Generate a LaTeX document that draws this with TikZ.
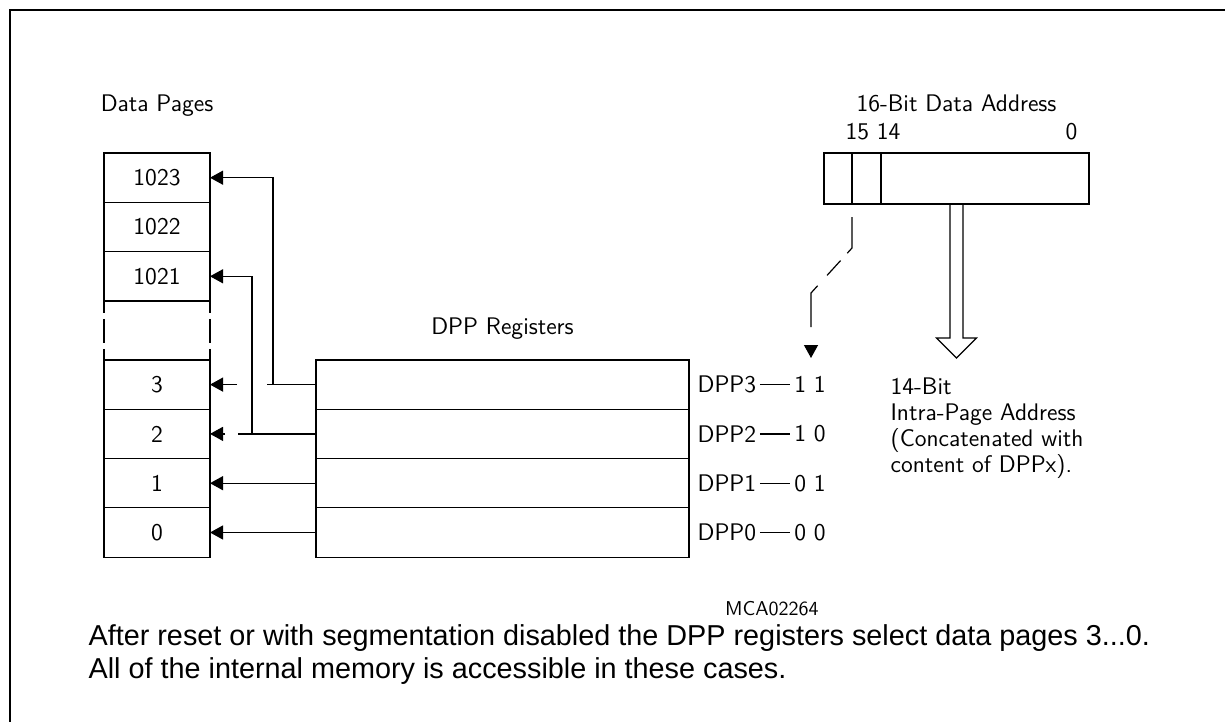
\documentclass[tikz,border=0pt]{standalone}
\usepackage{fontspec}
\usepackage{tikz}
\usetikzlibrary{arrows.meta, positioning}
\newfontfamily\notefont{Liberation Sans}

\begin{document}
\begin{tikzpicture} [x=0.5pt, y=-0.5pt,
            node distance = 0pt,
            line width = 0.6pt,
            lbl/.style = {font=\sffamily\fontsize{12}{13}\selectfont, inner sep=0pt},
            pagebox/.style = {draw, minimum width=53pt, minimum height=24.65pt,
                inner sep=0pt, outer sep=0pt, font=\sffamily\fontsize{12}{13}\selectfont},
            dppreg/.style = {pagebox, minimum width=186.5pt},
            wire/.style = {-{Triangle[length=6.5pt, width=7pt]}},
            gapline/.style = {dash pattern=on 6pt off 3pt on 12pt off 3pt on 5.5pt},
            bitline/.style = {wire, dash pattern=on 19pt off 5pt on 10pt off 7pt on 22pt off 40pt,
                dash phase=96.5pt}]

        \useasboundingbox (0,0) rectangle (1225,722);

        % Frame
        \draw [line width=1pt] (10,722) -- (10,10) -- (1225,10);

        % Data pages
        \node (p1023) [pagebox] at (157,177.7) {1023};
        \node (p1022) [pagebox, below = of p1023] {1022};
        \node (p1021) [pagebox, below = of p1022] {1021};
        \node (p3) [pagebox, below = 29.5pt of p1021] {3};
        \node (p2) [pagebox, below = of p3] {2};
        \node (p1) [pagebox, below = of p2] {1};
        \node (p0) [pagebox, below = of p1] {0};
        \node (dptitle) [lbl, above = 17.8pt of p1023] {Data Pages};

        \draw [gapline] (p1021.south west) -- (p3.north west);
        \draw [gapline] (p1021.south east) -- (p3.north east);

        % DPP registers
        \node (dpp3) [dppreg, right = 53pt of p3] {};
        \node (dpp2) [dppreg, below = of dpp3] {};
        \node (dpp1) [dppreg, below = of dpp2] {};
        \node (dpp0) [dppreg, below = of dpp1] {};
        \node (regtitle) [lbl, above = 10pt of dpp3] {DPP Registers};

        % Register names and bit values
        \node (dl3) [lbl, right = 4pt of dpp3] {DPP3};
        \node (dl2) [lbl, right = 4pt of dpp2] {DPP2};
        \node (dl1) [lbl, right = 4pt of dpp1] {DPP1};
        \node (dl0) [lbl, right = 4pt of dpp0] {DPP0};
        \node (bv3) [lbl, right = 18.5pt of dl3] {1 1};
        \node (bv2) [lbl, right = 18.5pt of dl2] {1 0};
        \node (bv1) [lbl, right = 18.5pt of dl1] {0 1};
        \node (bv0) [lbl, right = 18.5pt of dl0] {0 0};
        \foreach \i in {0,...,3}
            \draw [shorten <=1.5pt, shorten >=2pt] (dl\i) -- (bv\i);

        % Arrows to the data pages
        \draw [wire] (dpp3.west) -- ++(-43,0) |- (p1023.east);
        \draw [wire] (dpp2.west) -- ++(-64,0) |- (p1021.east);
        \draw [wire, dash pattern=on 24.5pt off 15pt on 20pt] (dpp3.west) -- (p3.east);
        \draw [wire, dash pattern=on 39pt off 6.5pt on 20pt] (dpp2.west) -- (p2.east);
        \draw [wire] (dpp1.west) -- (p1.east);
        \draw [wire] (dpp0.west) -- (p0.east);

        % 16-bit data address
        \node (addr) [pagebox, minimum width=132.5pt, minimum height=25.5pt] at (956.5,178.5) {};
        \node (addrttl) [lbl, above = 20pt of addr] {16-Bit Data Address};
        \node (bhi) [lbl, anchor=south west] at ([xshift=10.5pt, yshift=6pt]addr.north west) {15 14};
        \node (blo) [lbl, anchor=south east] at ([xshift=-5.5pt, yshift=6pt]addr.north east) {0};
        \coordinate (b14) at ([xshift=14pt]addr.south west);
        \coordinate (b13) at ([xshift=28.5pt]addr.south west);
        \draw (b14) -- (b14 |- addr.north);
        \draw (b13) -- (b13 |- addr.north);

        % Page bits
        \draw [bitline] (b14) -- ++(0,44) -- ++(-41,45) -- ++(0,65);

        % Intra-page address
        \draw [miter limit=20] ([xshift=-3.25pt]addr.south) -- ++(0,134) -- ++(-13.5,0)
            -- ++(20,20) -- ++(20,-20) -- ++(-13.5,0) -- ++(0,-134);
        \node (intra) [lbl, align=left, anchor=north west] at (890,377)
            {14-Bit\\Intra-Page Address\\(Concatenated with\\content of DPPx).};

        \node (mcaid) [lbl, font=\sffamily\fontsize{10}{12}\selectfont, anchor=east]
            at ([xshift=-3.5pt, yshift=-38pt]bv0.east) {MCA02264};

        % Note
        \node (note) [inner sep=0pt, align=left, anchor=north west,
            font=\notefont\fontsize{14.4}{16.5}\selectfont] at (88,624)
            {After reset or with segmentation disabled the DPP registers select data pages 3...0.\\
             All of the internal memory is accessible in these cases.};
\end{tikzpicture}
\end{document}
